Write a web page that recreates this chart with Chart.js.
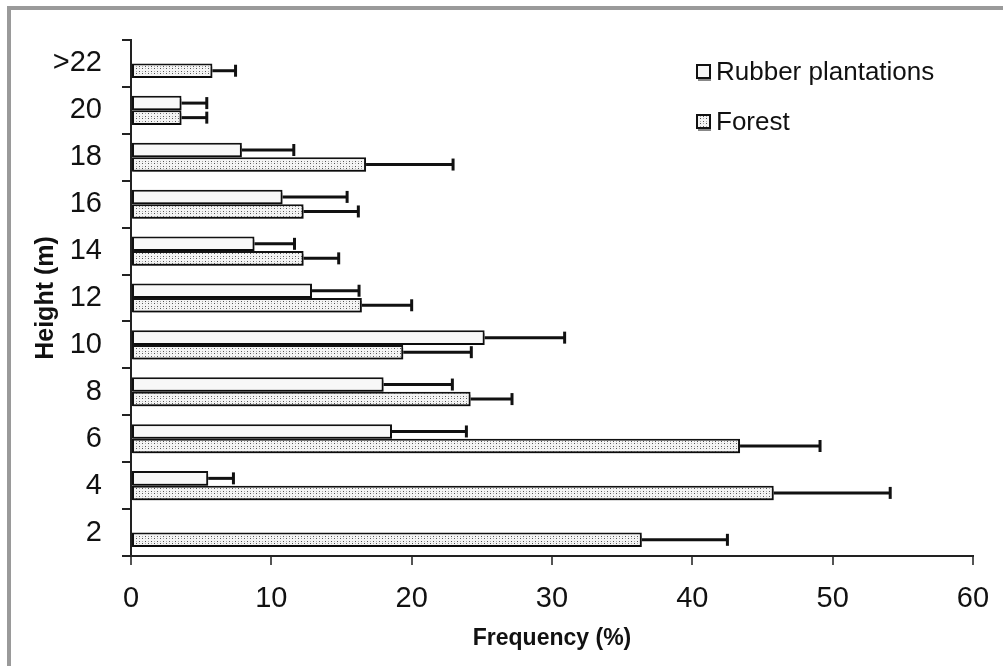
<!DOCTYPE html>
<html>
<head>
<meta charset="utf-8">
<script src="https://cdn.jsdelivr.net/npm/chart.js@4.4.1/dist/chart.umd.min.js"></script>
<style>
  html, body { margin: 0; padding: 0; background: #fff; }
  #wrap { position: relative; width: 1003px; height: 666px; }
  #frame { position: absolute; left: 7px; top: 6px; right: -10px; bottom: -10px;
           border-left: 4px solid #9a9a9a; border-top: 4px solid #9a9a9a; pointer-events: none; }
  canvas { position: absolute; left: 0; top: 0; }
</style>
</head>
<body>
<div id="wrap">
  <canvas id="c" width="1003" height="666"></canvas>
  <div id="frame"></div>
</div>
<script>
// ---- data ----
const categories = ["2", "4", "6", "8", "10", "12", "14", "16", "18", "20", ">22"];
const seriesNames = ["Rubber plantations", "Forest"];
const rubberValues = [null, 5.5, 18.6, 18.0, 25.2, 12.9, 8.8, 10.8, 7.9, 3.6, null];
const rubberSD     = [null, 1.8, 5.3, 4.9, 5.7, 3.35, 2.85, 4.6, 3.7, 1.8, null];
const forestValues = [36.4, 45.8, 43.4, 24.2, 19.4, 16.45, 12.3, 12.3, 16.75, 3.6, 5.8];
const forestSD     = [6.1, 8.3, 5.7, 2.95, 4.85, 3.55, 2.5, 3.9, 6.2, 1.8, 1.65];
const xTicks = [0, 10, 20, 30, 40, 50, 60];

// ---- patterns ----
function dotPattern() {
  const t = document.createElement('canvas');
  t.width = 6; t.height = 5;
  const g = t.getContext('2d');
  g.fillStyle = '#f4f4f4';
  g.fillRect(0, 0, 6, 5);
  g.fillStyle = '#555';
  g.fillRect(1, 1, 1, 1);
  g.fillRect(4, 3, 1, 1);
  g.fillStyle = '#aaa';
  g.fillRect(4, 1, 1, 1);
  g.fillRect(1, 3, 1, 1);
  return g.createPattern(t, 'repeat');
}
const ctx = document.getElementById('c').getContext('2d');
const forestFill = dotPattern();
const rubberFill = '#f8f8f8';

const FONT = "'Liberation Sans', Arial, sans-serif";

// error bars + shadow + legend plugin
const extras = {
  id: 'extras',
  beforeDatasetsDraw(chart) {
    const c = chart.ctx;
    c.save();
    c.shadowColor = 'rgba(0,0,0,0.35)';
    c.shadowOffsetX = 1;
    c.shadowOffsetY = 3;
    c.shadowBlur = 0;
  },
  afterDatasetsDraw(chart) {
    const c = chart.ctx;
    c.restore();
    const xs = chart.scales.x;
    const sds = [rubberSD, forestSD];
    c.save();
    c.strokeStyle = '#111';
    c.lineWidth = 3;
    chart.data.datasets.forEach((ds, i) => {
      const meta = chart.getDatasetMeta(i);
      meta.data.forEach((el, j) => {
        const v = ds.data[j];
        const sd = sds[i][j];
        if (v == null || sd == null) return;
        const x0 = xs.getPixelForValue(v);
        const x1 = xs.getPixelForValue(v + sd);
        const y = el.y;
        c.beginPath();
        c.moveTo(x0, y);
        c.lineTo(x1, y);
        c.stroke();
        c.beginPath();
        c.moveTo(x1, y - 6);
        c.lineTo(x1, y + 6);
        c.stroke();
      });
    });
    c.restore();
  },
  afterDraw(chart) {
    const c = chart.ctx;
    const fills = [rubberFill, forestFill];
    const ys = [72, 122];
    c.save();
    c.font = "26px " + FONT;
    c.textBaseline = 'middle';
    c.fillStyle = '#111';
    seriesNames.forEach((name, i) => {
      const bx = 697, by = ys[i] - 7;
      c.fillStyle = '#888';
      c.fillRect(bx + 1, by + 3, 13, 13);
      c.fillStyle = fills[i];
      c.fillRect(bx, by, 13, 13);
      c.strokeStyle = '#111';
      c.lineWidth = 2;
      c.strokeRect(bx, by, 13, 13);
      c.fillStyle = '#111';
      c.fillText(name, 716, ys[i] + 1);
    });
    c.restore();
  }
};

new Chart(ctx, {
  type: 'bar',
  data: {
    labels: categories,
    datasets: [
      { label: seriesNames[0], data: rubberValues, backgroundColor: rubberFill,
        borderColor: '#111', borderWidth: 2, borderSkipped: false },
      { label: seriesNames[1], data: forestValues, backgroundColor: forestFill,
        borderColor: '#111', borderWidth: 2, borderSkipped: false }
    ]
  },
  options: {
    indexAxis: 'y',
    responsive: false,
    animation: false,
    devicePixelRatio: 1,
    layout: { padding: { left: 0, right: 30, top: 40, bottom: 0 } },
    datasets: { bar: { categoryPercentage: 0.62, barPercentage: 1.0 } },
    plugins: { legend: { display: false }, tooltip: { enabled: false } },
    scales: {
      x: {
        type: 'linear', min: 0, max: 60,
        afterFit(s) { s.height = 110; s.paddingRight = 0; s.paddingLeft = 0; },
        afterBuildTicks(s) { s.ticks = xTicks.map(v => ({ value: v })); },
        border: { display: true, color: '#222', width: 2 },
        grid: { drawOnChartArea: false, drawTicks: true, tickLength: 9, color: '#555', lineWidth: 2 },
        ticks: { color: '#111', padding: 17, font: { family: FONT, size: 29 } },
        title: { display: true, text: 'Frequency (%)', color: '#111',
                 font: { family: FONT, size: 23, weight: 'bold' }, padding: { top: 0, bottom: 14 } }
      },
      y: {
        type: 'category', reverse: true, offset: true,
        afterFit(s) { s.width = 131; s.paddingTop = 0; s.paddingBottom = 0; },
        border: { display: true, color: '#222', width: 2 },
        grid: { offset: true, drawOnChartArea: false, drawTicks: true, tickLength: 9, color: '#222', lineWidth: 2 },
        ticks: { color: '#111', padding: 20, font: { family: FONT, size: 29 } },
        title: { display: true, text: 'Height (m)', color: '#111',
                 font: { family: FONT, size: 25, weight: 'bold' }, padding: { top: 31, bottom: 0 } }
      }
    }
  },
  plugins: [extras]
});
</script>
</body>
</html>
